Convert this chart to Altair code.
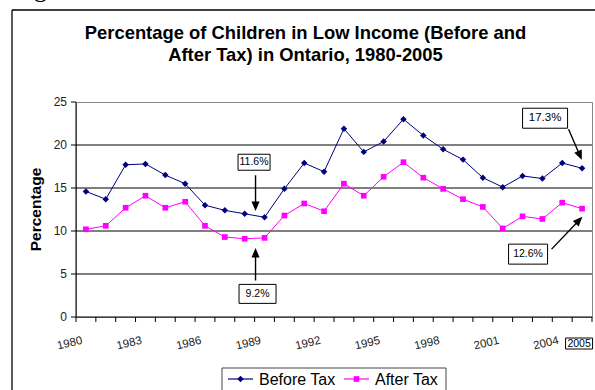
import math
import altair as alt
import pandas as pd

# Share of children living in low income, Ontario
years = list(range(1980, 2006))
before_tax = [14.6, 13.7, 17.7, 17.8, 16.5, 15.5, 13.0, 12.4, 12.0, 11.6,
              14.9, 17.9, 16.9, 21.9, 19.2, 20.4, 23.0, 21.1, 19.5, 18.3,
              16.2, 15.1, 16.4, 16.1, 17.9, 17.3]
after_tax = [10.2, 10.6, 12.7, 14.1, 12.7, 13.4, 10.6, 9.3, 9.1, 9.2,
             11.8, 13.2, 12.3, 15.5, 14.1, 16.3, 18.0, 16.2, 14.9, 13.7,
             12.8, 10.3, 11.7, 11.4, 13.3, 12.6]
series_names = ["Before Tax", "After Tax"]
series_colors = ["#000080", "#FF00FF"]
series_markers = ["diamond", "square"]
label_years = [1980, 1983, 1986, 1989, 1992, 1995, 1998, 2001, 2004]
boxed_year = 2005
y_ticks = [0, 5, 10, 15, 20, 25]
grid_values = [5, 10, 15, 20]
y_title = "Percentage"
title_text = ("Percentage of Children in Low Income (Before and\n"
              "After Tax) in Ontario, 1980-2005")

FONT = "Liberation Sans"
W, H = 516, 215
MARKER_SIZE = {"diamond": 42, "square": 32}

long = pd.DataFrame(
    [{"year": y, "series": s, "value": v}
     for s, vals in zip(series_names, [before_tax, after_tax])
     for y, v in zip(years, vals)]
)
lookup = {"Before Tax": dict(zip(years, before_tax)),
          "After Tax": dict(zip(years, after_tax))}

x_scale = alt.Scale(domain=[years[0] - 0.5, years[-1] + 0.5], nice=False, zero=False)
y_scale = alt.Scale(domain=[0, 25], nice=False)
color_scale = alt.Scale(domain=series_names, range=series_colors)

X = alt.X("year:Q", scale=x_scale, axis=None)
Y = alt.Y("value:Q", scale=y_scale, axis=None)

category_bounds = [years[0] - 0.5 + i for i in range(len(years) + 1)]

layers = []

# Horizontal gridlines
layers.append(alt.Chart(pd.DataFrame({"value": grid_values})).mark_rule(
    color="black", strokeWidth=1).encode(y=Y))

# Axis lines, tick marks and tick labels
one = alt.Chart(pd.DataFrame({"k": [0]}))
layers.append(one.mark_rule(color="black", strokeWidth=1).encode(
    x=alt.value(0), y=alt.value(0), y2=alt.value(H)))
layers.append(one.mark_rule(color="black", strokeWidth=1).encode(
    x=alt.value(0), x2=alt.value(W), y=alt.value(H)))
layers.append(alt.Chart(pd.DataFrame({"value": y_ticks})).mark_rule(
    color="black", strokeWidth=1).encode(y=Y, x=alt.value(-5), x2=alt.value(0)))
layers.append(alt.Chart(pd.DataFrame({"value": y_ticks})).mark_text(
    font=FONT, fontSize=12, color="#222", align="right", baseline="middle", dx=0,
).encode(y=Y, x=alt.value(-9), text=alt.Text("value:Q", format="d")))
layers.append(alt.Chart(pd.DataFrame({"year": category_bounds})).mark_rule(
    color="black", strokeWidth=1).encode(x=X, y=alt.value(H), y2=alt.value(H + 5)))
layers.append(alt.Chart(pd.DataFrame({"t": [y_title]})).mark_text(
    font=FONT, fontSize=15.5, fontWeight="bold", color="black", angle=270,
    align="center", baseline="middle",
).encode(x=alt.value(-40.5), y=alt.value(H / 2), text="t:N"))

# Series lines and markers
layers.append(alt.Chart(long).mark_line(strokeWidth=1).encode(
    x=X, y=Y,
    color=alt.Color("series:N", scale=color_scale, legend=None),
    detail="series:N",
))
for name, colour, marker in zip(series_names, series_colors, series_markers):
    layers.append(
        alt.Chart(long).transform_filter(alt.datum.series == name).mark_point(
            shape=marker, filled=True, color=colour, opacity=1, size=MARKER_SIZE[marker],
        ).encode(x=X, y=Y)
    )


def rect_path(cx, cy, w, h):
    return (f"M{cx - w / 2:.1f},{cy - h / 2:.1f}H{cx + w / 2:.1f}"
            f"V{cy + h / 2:.1f}H{cx - w / 2:.1f}Z")


def arrow_path(x1, y1, x2, y2, head=7.0, half=3.0):
    dx, dy = x2 - x1, y2 - y1
    length = math.hypot(dx, dy)
    ux, uy = dx / length, dy / length
    nx, ny = -uy, ux
    bx, by = x2 - ux * head, y2 - uy * head
    return (f"M{x1:.1f},{y1:.1f}L{bx:.1f},{by:.1f}"
            f"M{x2:.1f},{y2:.1f}L{bx + nx * half:.1f},{by + ny * half:.1f}"
            f"L{bx - nx * half:.1f},{by - ny * half:.1f}Z")


# (series, year, box centre offset, box size, arrow start, arrow end, font size), pixels
callouts = [
    ("Before Tax", 1989, (-10.5, -55), (32, 16), (-9, -42), (-9, -8), 10.5),
    ("After Tax", 1989, (-7, 56), (37, 19), (-9, 42.5), (-9, 12), 10.5),
    ("Before Tax", 2005, (-37, -50), (45, 20), (-13.5, -39), (-1, -10), 11.5),
    ("After Tax", 2005, (-54, 45.5), (39, 20), (-30.5, 40.5), (-1, 9.5), 10.5),
]

for series, yr, (cx, cy), (bw, bh), (ax1, ay1), (ax2, ay2), fs in callouts:
    val = lookup[series][yr]
    df = pd.DataFrame([{"year": yr, "value": val, "label": f"{val:.1f}%"}])
    base = alt.Chart(df).encode(x=X, y=Y)
    layers.append(base.mark_point(shape=arrow_path(ax1, ay1, ax2, ay2), size=4,
                                  filled=True, fill="black", stroke="black",
                                  strokeWidth=1.4, opacity=1))
    layers.append(base.mark_point(shape=rect_path(cx, cy, bw, bh), size=4,
                                  filled=True, fill="white", stroke="black",
                                  strokeWidth=1, opacity=1))
    layers.append(base.mark_text(dx=cx, dy=cy, font=FONT, fontSize=fs, color="black",
                                 align="center", baseline="middle").encode(text="label:N"))

# Year labels under the axis, every third year, tilted upward
layers.append(alt.Chart(pd.DataFrame({"year": label_years})).mark_text(
    font=FONT, fontSize=11.5, color="#222", angle=347,
    align="right", baseline="alphabetic", dx=-3,
).encode(x=X, y=alt.value(H + 26), text=alt.Text("year:Q", format="d")))

# Final year shown in a box
final_df = pd.DataFrame({"year": [boxed_year]})
layers.append(alt.Chart(final_df).mark_point(
    shape=rect_path(-3, 0, 27, 11), size=4, filled=True, fill="white",
    stroke="black", strokeWidth=1, opacity=1,
).encode(x=X, y=alt.value(H + 26.5)))
layers.append(alt.Chart(final_df).mark_text(
    font=FONT, fontSize=10.5, color="black", align="center", baseline="middle", dx=-3,
).encode(x=X, y=alt.value(H + 27), text=alt.Text("year:Q", format="d")))

# Legend box below the chart: line sample with marker, then the series name
LEG_LEFT, LEG_TOP, LEG_RIGHT, LEG_BOTTOM = 146, 266, 370, 292
LEG_ROW = 277
layers.append(one.mark_rect(fill="white", stroke="#444", strokeWidth=1).encode(
    x=alt.value(LEG_LEFT), x2=alt.value(LEG_RIGHT),
    y=alt.value(LEG_TOP), y2=alt.value(LEG_BOTTOM)))
legend_starts = [152, 268]
for name, colour, marker, lx in zip(series_names, series_colors, series_markers,
                                    legend_starts):
    entry = alt.Chart(pd.DataFrame({"series": [name]}))
    layers.append(entry.mark_rule(color=colour, strokeWidth=1.2).encode(
        x=alt.value(lx), x2=alt.value(lx + 25), y=alt.value(LEG_ROW)))
    layers.append(entry.mark_point(shape=marker, filled=True, color=colour, opacity=1,
                                   size=MARKER_SIZE[marker]).encode(
        x=alt.value(lx + 12.5), y=alt.value(LEG_ROW)))
    layers.append(entry.mark_text(font=FONT, fontSize=16, color="black", align="left",
                                  baseline="middle").encode(
        x=alt.value(lx + 31), y=alt.value(LEG_ROW + 1), text="series:N"))

# Chart title, two centred lines
layers.append(alt.Chart(pd.DataFrame({"t": [title_text]})).mark_text(
    font=FONT, fontSize=18.4, fontWeight="bold", color="black", align="center",
    baseline="alphabetic", lineBreak="\n", lineHeight=22,
).encode(x=alt.value(229.5), y=alt.value(-63), text="t:N"))

# Outer frame of the chart (left and top edges)
layers.append(one.mark_rule(color="black", strokeWidth=1.3).encode(
    x=alt.value(-64), y=alt.value(-92), y2=alt.value(300)))
layers.append(one.mark_rule(color="black", strokeWidth=1.3).encode(
    x=alt.value(-64), x2=alt.value(530), y=alt.value(-92)))
layers.append(alt.Chart(pd.DataFrame({"t": ["g"]})).mark_text(
    font="Liberation Serif", fontSize=26, color="black", align="left",
    baseline="alphabetic",
).encode(x=alt.value(-42), y=alt.value(-105), text="t:N"))

chart = alt.layer(*layers).properties(
    width=W, height=H,
    autosize=alt.AutoSizeParams(type="none"),
    padding={"left": 76, "top": 102, "right": 3, "bottom": 73},
    background="white",
).configure_view(stroke="#888888", strokeWidth=1)

chart.save("out.html", embed_options={"renderer": "svg", "actions": False})
